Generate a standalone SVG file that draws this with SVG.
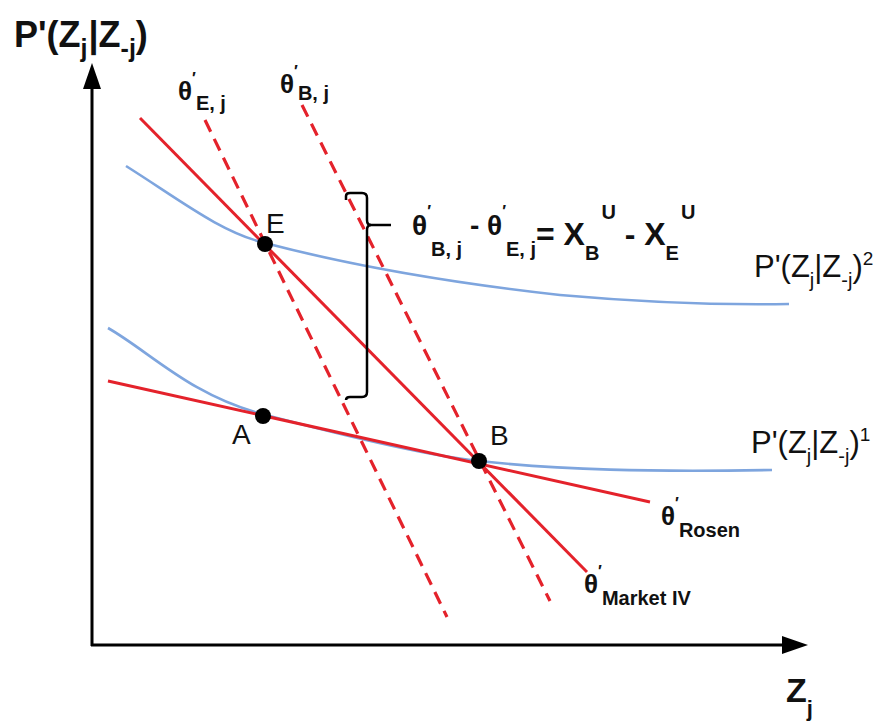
<svg xmlns="http://www.w3.org/2000/svg" width="883" height="721" viewBox="0 0 883 721">
<defs>
<style>
.ax{stroke:#000;stroke-width:3;fill:none}
.blue{stroke:#7ea5de;stroke-width:2.6;fill:none}
.red{stroke:#e4222b;stroke-width:3;fill:none}
.dash{stroke:#e4222b;stroke-width:3.2;fill:none;stroke-dasharray:13 8}
.dot{fill:#000}
.t{font-family:"Liberation Sans",Arial,sans-serif;fill:#111}
.b{font-weight:bold}
</style>
<marker id="arr" viewBox="0 0 26 18" refX="0" refY="9" markerWidth="26" markerHeight="18" markerUnits="userSpaceOnUse" orient="auto">
<path d="M0,0 L26,9 L0,18 Z" fill="#000"/>
</marker>
</defs>
<rect width="883" height="721" fill="#fff"/>
<g id="axes">
<path class="ax" d="M92,646 L92,89" marker-end="url(#arr)"/>
<path class="ax" d="M91,645 L782,645" marker-end="url(#arr)"/>
</g>
<g id="curves">
<path class="blue" d="M126,166 C180,200 220,232 265,243 C360,268 470,285 560,295 C650,303 730,305 789,304"/>
<path class="blue" d="M108,328 C150,352 190,395 262,414 C330,432 420,455 479,461 C560,470 650,472 772,470"/>
</g>
<g id="connectors">
<line class="dash" x1="205" y1="120" x2="447" y2="617"/>
<line class="dash" x1="302" y1="105" x2="550" y2="601"/>
<line class="red" x1="140" y1="118" x2="587" y2="572"/>
<line class="red" x1="108" y1="381" x2="650" y2="502"/>
<path class="ax" style="stroke-width:2.5" d="M346,200 L346,196 Q346,193 350,193 L362,193 Q367,193 367,198 L367,220 Q367,225 371,225 Q367,225 367,230 L367,392 Q367,397 362,397 L350,397 Q346,397 346,400"/>
<line class="ax" style="stroke-width:2.5" x1="370" y1="225" x2="391" y2="225"/>
</g>
<g id="node-E"><circle class="dot" cx="265" cy="244" r="8"/><text class="t" x="266" y="233" font-size="28">E</text></g>
<g id="node-A"><circle class="dot" cx="263" cy="416" r="8"/><text class="t" x="232" y="444" font-size="28">A</text></g>
<g id="node-B"><circle class="dot" cx="479" cy="461" r="8"/><text class="t" x="490" y="445" font-size="28">B</text></g>
<g id="labels">
<text class="t b" x="14" y="47" font-size="36">P'(Z<tspan font-size="25" dy="10">j</tspan><tspan dy="-10" dx="1">|Z</tspan><tspan font-size="25" dy="10">-j</tspan><tspan dy="-10">)</tspan></text>
<text class="t b" x="786" y="702" font-size="34">Z<tspan font-size="22" dy="14">j</tspan></text>
<text class="t b" x="178" y="100" font-size="26">θ<tspan font-size="16" dy="-16">′</tspan><tspan font-size="20" dy="26">E, j</tspan></text>
<text class="t b" x="280" y="93" font-size="26">θ<tspan font-size="16" dy="-16">′</tspan><tspan font-size="20" dy="23">B, j</tspan></text>
<text class="t b" x="412" y="235" font-size="28">θ<tspan font-size="16" dy="-18">′</tspan><tspan font-size="20" dy="39">B, j</tspan><tspan dy="-21"> - θ</tspan><tspan font-size="16" dy="-18">′</tspan><tspan font-size="20" dy="39">E, j</tspan><tspan font-size="32" dy="-11">= X</tspan><tspan font-size="20" dy="15">B</tspan><tspan font-size="20" dy="-41" dx="2">U</tspan><tspan font-size="32" dy="26"> - X</tspan><tspan font-size="20" dy="15">E</tspan><tspan font-size="20" dy="-41" dx="2">U</tspan></text>
<text class="t" x="754" y="277" font-size="31">P'(Z<tspan font-size="20" dy="10">j</tspan><tspan dy="-10">|Z</tspan><tspan font-size="20" dy="10">-j</tspan><tspan dy="-10">)</tspan><tspan font-size="19" dy="-12">2</tspan></text>
<text class="t" x="751" y="453" font-size="31">P'(Z<tspan font-size="20" dy="10">j</tspan><tspan dy="-10">|Z</tspan><tspan font-size="20" dy="10">-j</tspan><tspan dy="-10">)</tspan><tspan font-size="19" dy="-12">1</tspan></text>
<text class="t b" x="661" y="525" font-size="26">θ<tspan font-size="16" dy="-16">′</tspan><tspan font-size="20" dy="28">Rosen</tspan></text>
<text class="t b" x="584" y="593" font-size="26">θ<tspan font-size="16" dy="-16">′</tspan><tspan font-size="20" dy="28">Market IV</tspan></text>
</g>
</svg>
